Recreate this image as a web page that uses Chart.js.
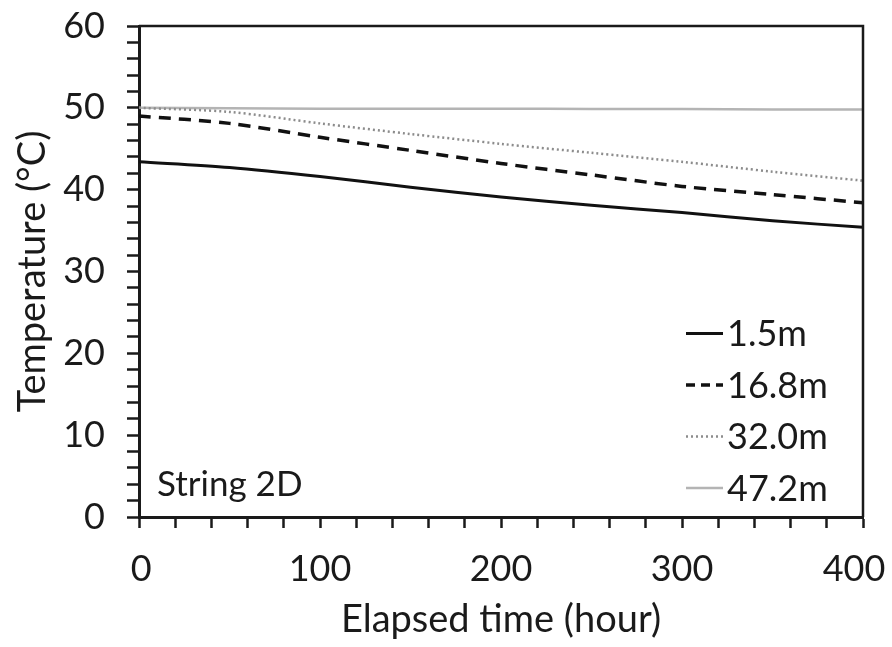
<!DOCTYPE html>
<html>
<head>
<meta charset="utf-8">
<script src="https://cdn.jsdelivr.net/npm/chart.js@4.4.1/dist/chart.umd.min.js"></script>
<style>
  html, body { margin: 0; padding: 0; background: #fff; }
  #wrap { width: 892px; height: 647px; }
</style>
</head>
<body>
<div id="wrap"><canvas id="chart" width="892" height="647"></canvas></div>
<script>
// elapsed time (hour) at each sample
const hours = [0, 50, 100, 150, 200, 250, 300, 350, 400];

// temperature (°C) per depth
const depth1_5 = [43.4, 42.7, 41.6, 40.3, 39.1, 38.1, 37.2, 36.2, 35.4];
const depth16_8 = [49.0, 48.1, 46.4, 44.8, 43.2, 41.8, 40.4, 39.4, 38.4];
const depth32_0 = [50.0, 49.5, 48.1, 46.8, 45.6, 44.5, 43.4, 42.2, 41.1];
const depth47_2 = [50.0, 49.95, 49.9, 49.9, 49.9, 49.85, 49.85, 49.8, 49.8];

const seriesLabels = ["1.5m", "16.8m", "32.0m", "47.2m"];
const xTickLabels = [0, 100, 200, 300, 400];
const yTickLabels = [0, 10, 20, 30, 40, 50, 60];
const panelLabel = "String 2D";

const FONT = "Lato, 'DejaVu Sans', sans-serif";
const INK = "#1a1a1a";

const toPoints = (ys) => hours.map((h, i) => ({ x: h, y: ys[i] }));

const styles = [
  { borderColor: "#111", borderWidth: 3, borderDash: [], keyDash: [] },
  { borderColor: "#111", borderWidth: 3.5, borderDash: [12, 8], keyDash: [9, 6] },
  { borderColor: "#8c8c8c", borderWidth: 2.5, borderDash: [2, 3], keyDash: [2, 3] },
  { borderColor: "#b4b4b4", borderWidth: 2.5, borderDash: [], keyDash: [] },
];

const datasets = [depth1_5, depth16_8, depth32_0, depth47_2].map((ys, i) => ({
  label: seriesLabels[i],
  data: toPoints(ys),
  borderColor: styles[i].borderColor,
  borderWidth: styles[i].borderWidth,
  borderDash: styles[i].borderDash,
  pointRadius: 0,
  tension: 0.3,
  fill: false,
}));

// end labels sit a little inside the frame
const xLabel = (v) => {
  if (!xTickLabels.includes(v)) return "";
  if (v === xTickLabels[0]) return "\u2009" + v;
  if (v === xTickLabels[xTickLabels.length - 1]) return v + "\u2002";
  return String(v);
};

// box around the plot, inline legend and panel caption
const decorations = {
  id: "decorations",
  afterDatasetsDraw(chart) {
    const { ctx, chartArea } = chart;
    ctx.save();
    ctx.strokeStyle = INK;
    ctx.lineWidth = 2.5;
    ctx.beginPath();
    ctx.moveTo(chartArea.left, chartArea.top);
    ctx.lineTo(chartArea.right, chartArea.top);
    ctx.lineTo(chartArea.right, chartArea.bottom);
    ctx.stroke();

    ctx.font = "36px " + FONT;
    ctx.fillStyle = INK;
    ctx.textBaseline = "middle";
    const rowGap = 51.5;
    const lastRow = chartArea.bottom - 29;
    chart.data.datasets.forEach((ds, i) => {
      const y = lastRow - (chart.data.datasets.length - 1 - i) * rowGap;
      ctx.strokeStyle = ds.borderColor;
      ctx.lineWidth = ds.borderWidth;
      ctx.setLineDash(styles[i].keyDash);
      ctx.beginPath();
      ctx.moveTo(686, y);
      ctx.lineTo(723, y);
      ctx.stroke();
      ctx.setLineDash([]);
      ctx.fillText(ds.label, 727, y + 1);
    });

    ctx.textBaseline = "alphabetic";
    ctx.font = "35px " + FONT;
    ctx.fillText(panelLabel, 157, 496);
    ctx.restore();
  },
};

new Chart(document.getElementById("chart"), {
  type: "line",
  data: { datasets },
  options: {
    responsive: false,
    animation: false,
    layout: { padding: { top: 26, right: 29, left: 0, bottom: 0 } },
    plugins: { legend: { display: false }, tooltip: { enabled: false } },
    scales: {
      x: {
        type: "linear",
        min: 0,
        max: 400,
        afterFit: (scale) => {
          scale.height = 130;
          scale.paddingLeft = 0;
          scale.paddingRight = 0;
        },
        ticks: {
          stepSize: 20,
          autoSkip: false,
          maxRotation: 0,
          padding: 20,
          color: INK,
          font: { family: FONT, size: 36 },
          callback: xLabel,
        },
        grid: {
          drawOnChartArea: false,
          drawTicks: true,
          tickLength: 11,
          tickWidth: 2.5,
          tickColor: INK,
        },
        border: { display: true, color: INK, width: 3 },
        title: {
          display: true,
          text: "Elapsed time (hour)",
          color: INK,
          font: { family: FONT, size: 38 },
          padding: { top: 0, bottom: 4 },
        },
      },
      y: {
        min: 0,
        max: 60,
        afterFit: (scale) => {
          scale.width = 139;
          scale.paddingTop = 0;
          scale.paddingBottom = 0;
        },
        ticks: {
          stepSize: 2,
          autoSkip: false,
          padding: 22,
          color: INK,
          font: { family: FONT, size: 36 },
          callback: (v) => (yTickLabels.includes(v) ? String(v) : ""),
        },
        grid: {
          drawOnChartArea: false,
          drawTicks: true,
          tickLength: 12,
          tickWidth: 2.5,
          tickColor: INK,
        },
        border: { display: true, color: INK, width: 3 },
        title: {
          display: true,
          text: "Temperature (°C)",
          color: INK,
          font: { family: FONT, size: 38 },
          padding: { top: 10, bottom: 0 },
        },
      },
    },
  },
  plugins: [decorations],
});
</script>
</body>
</html>
